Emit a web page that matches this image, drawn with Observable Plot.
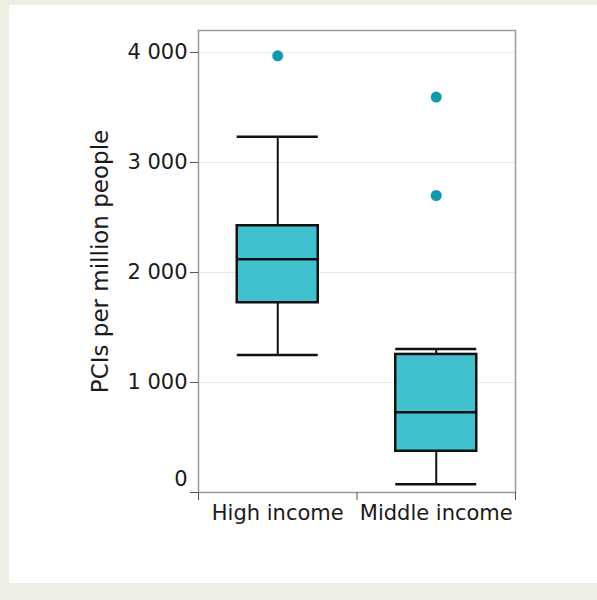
<!DOCTYPE html>
<html><head><meta charset="utf-8">
<script src="https://cdn.jsdelivr.net/npm/d3@7"></script>
<script src="https://cdn.jsdelivr.net/npm/@observablehq/plot@0.6"></script>
<style>
html,body{margin:0;padding:0;background:#eeeee5;}
#panel{position:absolute;left:9px;top:5px;width:588px;height:578px;background:#fff;}
#panel svg{display:block;}
</style></head><body><div id="panel"></div>
<script>
const categories = ["High income", "Middle income"];
const whiskerLow = [1250, 75];
const q1 = [1725, 375];
const median = [2120, 730];
const q3 = [2425, 1255];
const whiskerHigh = [3235, 1305];
const outlierCategory = ["High income", "Middle income", "Middle income"];
const outlierValue = [3970, 3595, 2700];
const yTicks = [0, 1000, 2000, 3000, 4000];
const yLabel = "PCIs per million people";

const boxes = categories.map((c, i) => ({c, i, lo: whiskerLow[i], q1: q1[i], med: median[i], q3: q3[i], hi: whiskerHigh[i]}));
const outliers = outlierValue.map((v, k) => ({i: categories.indexOf(outlierCategory[k]), v}));
const fmt = d3.formatLocale({decimal: ".", thousands: " ", grouping: [3], currency: ["", ""]}).format(",");

const inset = 38.75;
const font = "DejaVu Sans, Verdana, sans-serif";

const chart = Plot.plot({
  width: 588,
  height: 560,
  marginLeft: 189,
  marginRight: 82,
  marginTop: 25,
  marginBottom: 73,
  style: {fontFamily: font, fontSize: "21px", color: "#1a1a1a", background: "transparent"},
  x: {type: "linear", domain: [0, categories.length]},
  y: {domain: [0, 4200]},
  marks: [
    Plot.gridY(yTicks, {stroke: "#e6e6e6", strokeOpacity: 1, strokeWidth: 1}),
    Plot.frame({stroke: "#9a9a9a", strokeWidth: 1.5}),
    Plot.ruleX(boxes, {x: d => d.i + 0.5, y1: "lo", y2: "q1", stroke: "#111", strokeWidth: 2}),
    Plot.ruleX(boxes, {x: d => d.i + 0.5, y1: "q3", y2: "hi", stroke: "#111", strokeWidth: 2}),
    Plot.rect(boxes, {x1: "i", x2: d => d.i + 1, y1: "q1", y2: "q3", insetLeft: inset, insetRight: inset, fill: "#41c0cd", stroke: "#111", strokeWidth: 2.5}),
    Plot.ruleY(boxes, {x1: "i", x2: d => d.i + 1, y: "med", insetLeft: inset, insetRight: inset, stroke: "#111", strokeWidth: 2.5}),
    Plot.ruleY(boxes, {x1: "i", x2: d => d.i + 1, y: "lo", insetLeft: inset, insetRight: inset, stroke: "#111", strokeWidth: 2.5}),
    Plot.ruleY(boxes, {x1: "i", x2: d => d.i + 1, y: "hi", insetLeft: inset, insetRight: inset, stroke: "#111", strokeWidth: 2.5}),
    Plot.dot(outliers, {x: d => d.i + 0.5, y: "v", r: 5.5, fill: "#0f9aae", stroke: "none"}),
    Plot.axisY({ticks: yTicks, tickSize: 8, tickPadding: 3, stroke: "#555", tickFormat: d => d === 0 ? "" : fmt(d), fontSize: 21}),
    Plot.axisY({ticks: [], label: yLabel, labelAnchor: "center", labelArrow: "none", labelOffset: 106.5, fontSize: 23}),
    Plot.text([0], {y: d => d, text: d => fmt(d), frameAnchor: "left", textAnchor: "end", dx: -11, dy: -13, fontSize: 21, fill: "#1a1a1a"}),
    Plot.axisX({ticks: d3.range(categories.length + 1), tickSize: 8, stroke: "#555", tickFormat: () => "", label: null}),
    Plot.axisX({ticks: categories.map((c, i) => i + 0.5), tickSize: 0, tickPadding: 13, tickFormat: d => categories[Math.round(d - 0.5)], label: null, fontSize: 21})
  ]
});
document.getElementById("panel").appendChild(chart);
</script>
</body></html>
